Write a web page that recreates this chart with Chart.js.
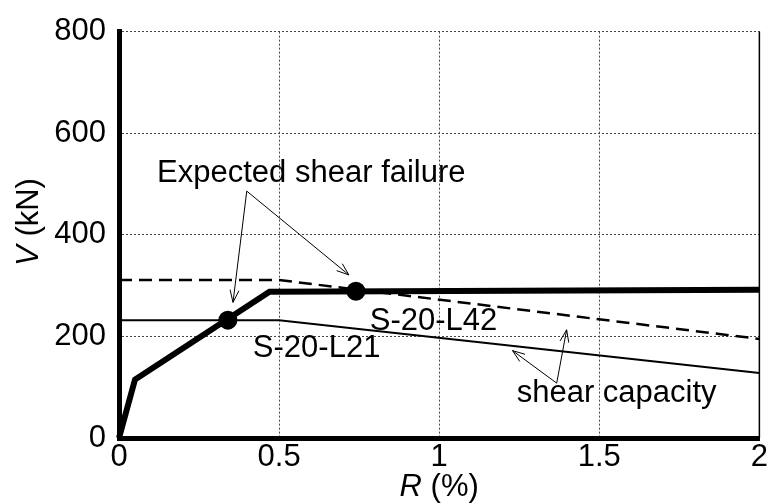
<!DOCTYPE html>
<html>
<head>
<meta charset="utf-8">
<script src="https://cdn.jsdelivr.net/npm/chart.js@4/dist/chart.umd.min.js"></script>
<style>
  html, body { margin: 0; padding: 0; background: #fff; }
  #wrap { width: 769px; height: 503px; }
</style>
</head>
<body>
<div id="wrap"><canvas id="shearChart" width="769" height="503"></canvas></div>
<script>
// Load-deformation response (thick line)
const responseR = [0, 0.05, 0.47, 2.0];
const responseV = [0, 115, 288, 292];

// Shear capacity, S-20-L21 (thin solid)
const capL21R = [0, 0.5, 2.0];
const capL21V = [232, 232, 128];

// Shear capacity, S-20-L42 (dashed)
const capL42R = [0, 0.5, 2.0];
const capL42V = [311, 311, 195];

// Expected shear failure points
const failR = [0.34, 0.74];
const failV = [232, 289];

const xTicks = [0, 0.5, 1, 1.5, 2];
const yTicks = [0, 200, 400, 600, 800];

const FONT = '"Liberation Sans", Arial, Helvetica, sans-serif';
const SIZE = 31;

function toXY(xs, ys) {
    return xs.map((x, i) => ({ x: x, y: ys[i] }));
}

// text labels and arrows, in data units
const notes = [
    { text: 'Expected shear failure', r: 0.119, v: 503 },
    { text: 'S-20-L42', r: 0.783, v: 213 },
    { text: 'S-20-L21', r: 0.418, v: 159 },
    { text: 'shear capacity', r: 1.242, v: 70 }
];
const arrows = [
    { from: [0.399, 486], to: [0.356, 267] },
    { from: [0.399, 486], to: [0.718, 321] },
    { from: [1.367, 108], to: [1.229, 172] },
    { from: [1.367, 108], to: [1.398, 213] }
];

const decorPlugin = {
    id: 'decor',
    afterDraw(chart) {
        const ctx = chart.ctx;
        const xs = chart.scales.x, ys = chart.scales.y;
        const area = chart.chartArea;
        ctx.save();

        // right frame line
        ctx.strokeStyle = '#000';
        ctx.lineWidth = 1.5;
        ctx.beginPath();
        ctx.moveTo(area.right, area.top);
        ctx.lineTo(area.right, area.bottom);
        ctx.stroke();

        // annotations
        ctx.fillStyle = '#000';
        ctx.font = SIZE + 'px ' + FONT;
        ctx.textBaseline = 'alphabetic';
        ctx.textAlign = 'left';
        notes.forEach(n => {
            ctx.fillText(n.text, xs.getPixelForValue(n.r), ys.getPixelForValue(n.v));
        });

        ctx.lineWidth = 1;
        arrows.forEach(a => {
            const x1 = xs.getPixelForValue(a.from[0]), y1 = ys.getPixelForValue(a.from[1]);
            const x2 = xs.getPixelForValue(a.to[0]), y2 = ys.getPixelForValue(a.to[1]);
            ctx.beginPath();
            ctx.moveTo(x1, y1);
            ctx.lineTo(x2, y2);
            ctx.stroke();
            const ang = Math.atan2(y2 - y1, x2 - x1);
            const len = 13, spread = 0.35;
            ctx.beginPath();
            ctx.moveTo(x2 - len * Math.cos(ang - spread), y2 - len * Math.sin(ang - spread));
            ctx.lineTo(x2, y2);
            ctx.lineTo(x2 - len * Math.cos(ang + spread), y2 - len * Math.sin(ang + spread));
            ctx.stroke();
        });

        // axis titles with italic variable names
        function mixed(parts, cx, cy, rot) {
            ctx.save();
            ctx.translate(cx, cy);
            ctx.rotate(rot);
            let total = 0;
            parts.forEach(p => { ctx.font = p.f; total += ctx.measureText(p.t).width; });
            let x = -total / 2;
            ctx.textBaseline = 'middle';
            parts.forEach(p => {
                ctx.font = p.f;
                ctx.fillText(p.t, x, 0);
                x += ctx.measureText(p.t).width;
            });
            ctx.restore();
        }
        mixed([{ t: 'R', f: 'italic ' + SIZE + 'px ' + FONT }, { t: ' (%)', f: SIZE + 'px ' + FONT }],
            (area.left + area.right) / 2, 487, 0);
        mixed([{ t: 'V', f: 'italic ' + SIZE + 'px ' + FONT }, { t: ' (kN)', f: SIZE + 'px ' + FONT }],
            29, 222, -Math.PI / 2);

        ctx.restore();
    }
};

const ctx = document.getElementById('shearChart').getContext('2d');
const chart = new Chart(ctx, {
    type: 'scatter',
    data: {
        datasets: [
            {
                label: 'failure',
                data: toXY(failR, failV),
                showLine: false,
                pointRadius: 9.5,
                pointBackgroundColor: '#000',
                pointBorderWidth: 0,
                order: 0
            },
            {
                label: 'response',
                data: toXY(responseR, responseV),
                showLine: true,
                borderColor: '#000',
                borderWidth: 6,
                pointRadius: 0,
                borderJoinStyle: 'miter',
                order: 1
            },
            {
                label: 'S-20-L42 capacity',
                data: toXY(capL42R, capL42V),
                showLine: true,
                borderColor: '#000',
                borderWidth: 2.5,
                borderDash: [13, 7],
                pointRadius: 0,
                order: 2
            },
            {
                label: 'S-20-L21 capacity',
                data: toXY(capL21R, capL21V),
                showLine: true,
                borderColor: '#000',
                borderWidth: 2,
                pointRadius: 0,
                order: 3
            }
        ]
    },
    options: {
        responsive: false,
        animation: false,
        clip: 8,
        layout: { padding: { top: 25, right: 9, left: 0, bottom: 0 } },
        plugins: {
            legend: { display: false },
            tooltip: { enabled: false }
        },
        scales: {
            x: {
                type: 'linear',
                min: 0,
                max: 2,
                afterFit: s => { s.height = 65; },
                afterBuildTicks: s => { s.ticks = xTicks.map(v => ({ value: v })); },
                ticks: {
                    color: '#000',
                    font: { family: FONT, size: SIZE },
                    padding: 1,
                    maxRotation: 0,
                    callback: v => String(v)
                },
                grid: {
                    color: '#444',
                    lineWidth: 1,
                    drawTicks: false
                },
                border: { color: '#000', width: 5, dash: [2, 2] }
            },
            y: {
                min: 0,
                max: 800,
                afterFit: s => { s.width = 119; },
                afterBuildTicks: s => { s.ticks = yTicks.map(v => ({ value: v })); },
                ticks: {
                    color: '#000',
                    font: { family: FONT, size: SIZE },
                    padding: 13
                },
                grid: {
                    color: '#444',
                    lineWidth: 1,
                    drawTicks: false
                },
                border: { color: '#000', width: 5, dash: [2, 2] }
            }
        }
    },
    plugins: [decorPlugin]
});
</script>
</body>
</html>
